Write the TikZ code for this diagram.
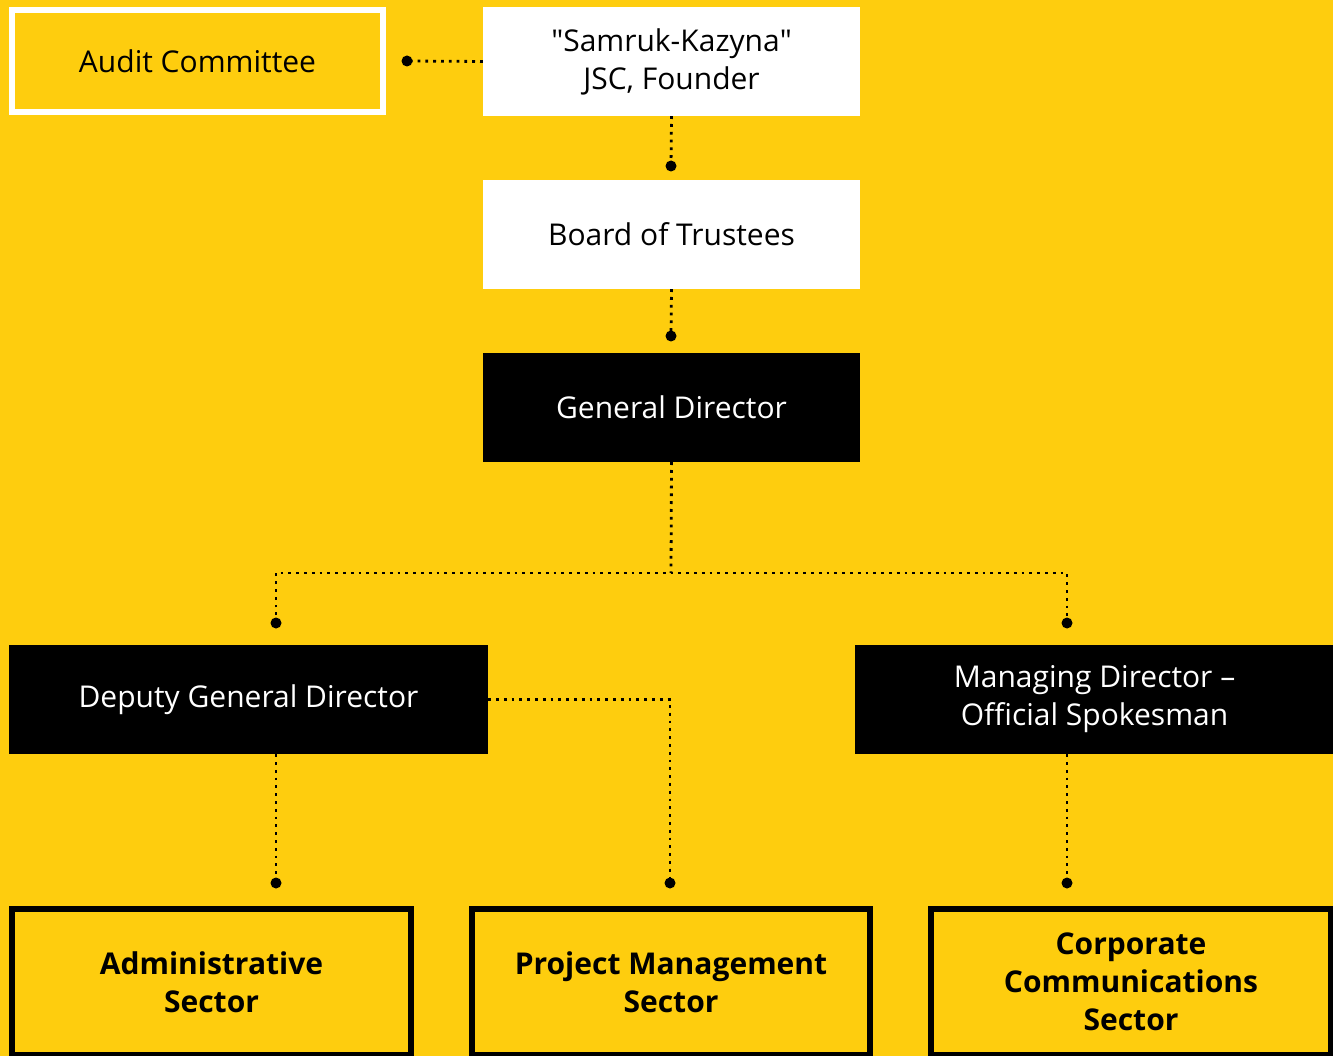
\documentclass[tikz,border=0pt]{standalone}
\usepackage{fontspec}
\setmainfont{Open Sans}
\definecolor{bgyellow}{RGB}{254,205,14}
\tikzset{
  box/.style={rectangle, inner sep=0pt, align=center, font=\fontsize{30}{38}\selectfont},
  whitebox/.style={box, fill=white, text=black},
  blackbox/.style={box, fill=black, text=white},
  auditbox/.style={box, draw=white, line width=6pt, text=black},
  sectorbox/.style={box, draw=black, line width=6pt, text=black, font=\fontsize{30}{38}\selectfont\bfseries},
  conn/.style={line width=2.8pt, dash pattern=on 2.8pt off 5pt, black},
  enddot/.style={circle, fill=black, inner sep=0pt, minimum size=11pt},
}
\begin{document}
\begin{tikzpicture}[x=1pt,y=-1pt]
\fill[bgyellow] (0,0) rectangle (1333,1056);
\useasboundingbox (0,0) rectangle (1333,1056);
\clip (0,0) rectangle (1333,1056);
% nodes
\node[auditbox, minimum width=371pt, minimum height=102pt] (audit) at (197.5,61) {Audit Committee};
\node[whitebox, minimum width=377pt, minimum height=109pt] (samruk) at (671.5,61.5) {\textquotedbl Samruk-Kazyna\textquotedbl\\JSC, Founder};
\node[whitebox, minimum width=377pt, minimum height=109pt] (board) at (671.5,234.5) {Board of Trustees};
\node[blackbox, minimum width=377pt, minimum height=109pt] (gd) at (671.5,407.5) {General Director};
\node[blackbox, minimum width=479pt, minimum height=109pt] (deputy) at (248.5,699.5) {Deputy General Director};
\node[blackbox, minimum width=479pt, minimum height=109pt] (managing) at (1094.5,699.5) {Managing Director –\\Official Spokesman};
\node[sectorbox, minimum width=399pt, minimum height=146pt] (admin) at (211.5,982) {Administrative\\Sector};
\node[sectorbox, minimum width=398pt, minimum height=146pt] (project) at (671,982) {Project Management\\Sector};
\node[sectorbox, minimum width=400pt, minimum height=146pt] (corp) at (1131,982) {Corporate\\Communications\\Sector};
% end dots
\node[enddot] (dA) at (407,61) {};
\node[enddot] (dB) at (671,166) {};
\node[enddot] (dC) at (671,336) {};
\node[enddot] (dD) at (276,623) {};
\node[enddot] (dE) at (1067,623) {};
\node[enddot] (dF) at (276,883) {};
\node[enddot] (dG) at (670,883) {};
\node[enddot] (dH) at (1067,883) {};
\coordinate (split) at (671,573);
% connectors
\draw[conn] (samruk.west) -- (dA.center);
\draw[conn] (samruk.south) -- (dB.center);
\draw[conn] (board.south) -- (dC.center);
\draw[conn] (gd.south) -- (split);
\draw[conn] (dD.center) |- (split) -| (dE.center);
\draw[conn] (deputy.east) -| (dG.center);
\draw[conn] (deputy.south -| dF) -- (dF.center);
\draw[conn] (managing.south -| dH) -- (dH.center);
\end{tikzpicture}
\end{document}
